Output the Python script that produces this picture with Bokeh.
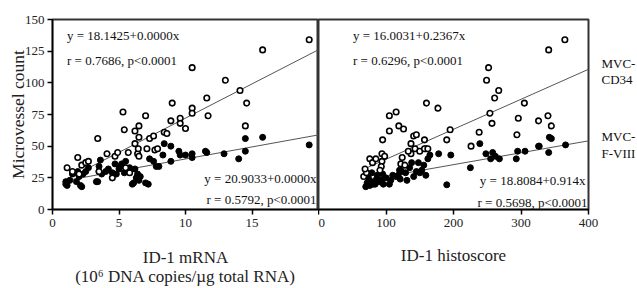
import math
from bokeh.plotting import figure
from bokeh.models import Label, FixedTicker, Range1d
from bokeh.layouts import row
from bokeh.embed import file_html
from bokeh.resources import INLINE

FONT = "Liberation Serif"

# ---------------- data: left panel (ID-1 mRNA) ----------------
mrna_cd34_x = [1.1, 1.5, 1.9, 2.0, 2.2, 2.5, 2.7, 3.4, 3.5, 4.1, 4.5, 4.7, 4.9, 5.3, 5.4,
               5.5, 5.7, 5.8, 6.2, 6.2, 6.4, 6.45, 6.5, 6.5, 6.5, 7.0, 7.1, 7.3, 7.6, 7.7,
               7.9, 8.4, 8.6, 8.9, 9.0, 9.6, 9.6, 10.0, 10.5, 10.5, 10.5, 11.6, 11.7, 13.0,
               14.1, 14.5, 14.6, 15.8, 19.3]
mrna_cd34_y = [33, 30, 41, 28, 35, 37, 38, 56, 30, 44, 25, 42, 45, 77, 63,
               33, 45, 29, 62, 52, 44, 48, 66, 57, 42, 74, 48, 56, 58, 47,
               48, 61, 60, 70, 84, 72, 68, 64, 112, 80, 76, 88, 74, 102,
               94, 66, 84, 126, 134]

mrna_f8_x = [1.0, 1.0, 1.1, 1.3, 1.5, 1.6, 1.8, 1.9, 2.0, 2.1, 2.2, 2.3, 2.5, 2.7, 3.3,
             3.4, 3.5, 3.5, 3.6, 3.7, 4.0, 4.2, 4.5, 4.7, 4.8, 5.0, 5.1, 5.2, 5.4, 5.5,
             5.6, 5.8, 6.0, 6.1, 6.2, 6.3, 6.4, 6.5, 6.6, 7.0, 7.2, 7.3, 7.6, 7.8, 8.0,
             8.3, 8.4, 8.9, 8.9, 9.5, 9.6, 10.0, 10.5, 10.5, 11.5, 11.6, 12.9, 14.0,
             14.5, 14.5, 15.8, 19.3]
mrna_f8_y = [20, 22, 19, 23, 28, 29, 22, 30, 26, 19, 18, 28, 30, 33, 22,
             22, 30, 34, 39, 28, 30, 32, 29, 36, 28, 32, 34, 36, 29, 38,
             31, 33, 20, 21, 32, 25, 28, 23, 26, 21, 20, 40, 38, 34, 34,
             43, 52, 50, 38, 46, 43, 43, 44, 41, 46, 45, 44, 40,
             46, 56, 57, 51]

# ---------------- data: right panel (ID-1 histoscore) ----------------
hs_cd34_x = [67, 71, 69, 76, 80, 85, 94, 98, 94, 93, 91, 95, 105, 115, 105, 119, 126,
             122, 124, 128, 137, 137, 141, 143, 145, 133, 150, 157, 159, 157, 162, 160,
             177, 190, 195, 226, 238, 249, 252, 254, 257, 261, 267, 294, 296, 305, 326,
             340, 341, 345, 365]
hs_cd34_y = [26, 29, 32, 40, 37, 40, 44, 42, 38, 34, 31, 55, 74, 77, 62, 66, 63.5,
             36, 41, 35, 52, 44, 58, 48, 59, 46, 46, 55, 48, 48, 48, 84,
             80, 55, 63, 50, 61, 102, 112, 76, 68, 88, 94, 59, 72, 84, 70,
             74, 126, 66, 134]

hs_f8_x = [70, 72, 74, 76, 78, 79, 81, 84, 86, 87, 90, 93, 95, 96, 100, 105, 107, 110,
           115, 118, 120, 121, 123, 125, 129, 131, 135, 138, 141, 145, 148, 150, 153,
           156, 159, 162, 165, 178, 190, 196, 225, 239, 248, 255, 258, 262, 268, 293,
           295, 306, 326, 327, 341, 342, 345, 366]
hs_f8_y = [18, 21, 25, 19, 22, 29, 20, 20, 24, 27, 22, 23, 28, 20, 25, 20, 23, 27,
           26, 27, 31, 24, 30, 35, 29, 23, 33, 37, 26, 30, 37, 29, 31,
           35, 27, 40, 43, 44, 19.5, 43, 33, 52, 44, 40, 45, 42, 40, 40,
           46, 46, 50, 50, 45, 57, 56, 51]

# regression lines (intercept, slope)
fit_mrna_cd34 = (18.1425, 5.40)
fit_mrna_f8 = (20.9, 1.90)
fit_hs_cd34 = (16.0031, 0.2367)
fit_hs_f8 = (16.6, 0.094)

mrna_ticks = [0, 5, 10, 15]
hs_ticks = [0, 100, 200, 300, 400]
y_ticks = [0, 25, 50, 75, 100, 125, 150]

txt_mrna_cd34 = ["y = 18.1425+0.0000x", "r = 0.7686, p<0.0001"]
txt_mrna_f8 = ["y = 20.9033+0.0000x", "r = 0.5792, p<0.0001"]
txt_hs_cd34 = ["y = 16.0031+0.2367x", "r = 0.6296, p<0.0001"]
txt_hs_f8 = ["y = 18.8084+0.914x", "r = 0.5698, p<0.0001"]
series_labels = [["MVC-", "CD34"], ["MVC-", "F-VIII"]]
y_title = "Microvessel count"
x_title_left = "ID-1 mRNA\n(10\u2076 DNA copies/\u00b5g total RNA)"
x_title_right = "ID-1 histoscore"

TOP, BOTTOM, H = 19, 77, 288


def style(p, ticks):
    p.grid.visible = False
    p.outline_line_color = "#333333"
    p.outline_line_width = 2
    p.background_fill_color = "white"
    p.border_fill_color = "white"
    for ax in p.axis:
        ax.axis_line_color = "black"
        ax.axis_line_width = 1.5
        ax.major_tick_line_color = "black"
        ax.major_tick_line_width = 1.5
        ax.major_tick_out = 5
        ax.major_tick_in = 0
        ax.minor_tick_line_color = None
        ax.major_label_text_font = FONT
        ax.major_label_text_font_size = "13px"
        ax.major_label_text_color = "#222222"
        ax.major_label_standoff = 4
        ax.axis_label_text_font = FONT
        ax.axis_label_text_font_style = "normal"
        ax.axis_label_text_color = "#222222"
    p.xaxis.ticker = FixedTicker(ticks=ticks)


def lab(p, text, x, y, align="left", size="13px", angle=0.0):
    p.add_layout(Label(x=x, y=y, x_units="screen", y_units="screen", text=text,
                       text_font=FONT, text_font_size=size, text_color="#111111",
                       text_align=align, text_baseline="middle", angle=angle))


def scatter_pair(p, ox, oy, cx, cy):
    p.scatter(cx, cy, marker="circle", size=6, fill_color="black", line_color="black",
              line_width=1)
    p.scatter(ox, oy, marker="circle", size=5.5, fill_color="white", line_color="black",
              line_width=1.6)


def fit_line(p, fit, xs, xend):
    a, b = fit
    x0 = min(xs)
    p.line([x0, xend], [a + b * x0, a + b * xend], line_color="#555555", line_width=1)


# ---------------- left figure ----------------
p1 = figure(width=318, height=H, x_range=Range1d(0, 20), y_range=Range1d(0, 150),
            output_backend="svg", toolbar_location=None,
            min_border_left=52, min_border_right=0, min_border_top=TOP, min_border_bottom=BOTTOM)
style(p1, mrna_ticks)
p1.yaxis.ticker = FixedTicker(ticks=y_ticks)
p1.yaxis.major_label_standoff = 3
p1.yaxis.axis_label = y_title
p1.yaxis.axis_label_text_font_size = "17.5px"
p1.yaxis.axis_label_standoff = -6
p1.xaxis.axis_label = x_title_left
p1.xaxis.axis_label_text_font_size = "17px"
p1.xaxis.axis_label_text_line_height = 1.0
p1.xaxis.axis_label_standoff = 18
fit_line(p1, fit_mrna_cd34, mrna_cd34_x, 20)
fit_line(p1, fit_mrna_f8, mrna_f8_x, 20)
scatter_pair(p1, mrna_cd34_x, mrna_cd34_y, mrna_f8_x, mrna_f8_y)
lab(p1, txt_mrna_cd34[0], 14.5, 174.5)
lab(p1, txt_mrna_cd34[1], 14.5, 149.5)
lab(p1, txt_mrna_f8[0], 264, 31, align="right")
lab(p1, txt_mrna_f8[1], 264, 10, align="right")

# ---------------- right figure ----------------
p2 = figure(width=282, height=H, x_range=Range1d(0, 400), y_range=Range1d(0, 150),
            output_backend="svg", toolbar_location=None, y_axis_location=None,
            min_border_left=0, min_border_right=12, min_border_top=TOP, min_border_bottom=BOTTOM)
style(p2, hs_ticks)
p2.xaxis.axis_label = x_title_right
p2.xaxis.axis_label_text_font_size = "17px"
p2.xaxis.axis_label_standoff = 16
fit_line(p2, fit_hs_cd34, hs_cd34_x, 400)
fit_line(p2, fit_hs_f8, hs_f8_x, 400)
scatter_pair(p2, hs_cd34_x, hs_cd34_y, hs_f8_x, hs_f8_y)
lab(p2, txt_hs_cd34[0], 34.5, 174.5)
lab(p2, txt_hs_cd34[1], 34.5, 149.5)
lab(p2, txt_hs_f8[0], 267, 29.5, align="right")
lab(p2, txt_hs_f8[1], 269, 7.5, align="right")

# ---------------- series labels on the right ----------------
p3 = figure(width=37, height=H, x_range=Range1d(0, 1), y_range=Range1d(0, 150),
            output_backend="svg", toolbar_location=None,
            x_axis_location=None, y_axis_location=None,
            min_border_left=0, min_border_right=0, min_border_top=TOP, min_border_bottom=BOTTOM)
p3.grid.visible = False
p3.outline_line_color = None
lab(p3, series_labels[0][0], 1, 146)
lab(p3, series_labels[0][1], 1, 130)
lab(p3, series_labels[1][0], 1, 73.5)
lab(p3, series_labels[1][1], 1, 56)

layout = row(p1, p2, p3)
open("out.html", "w").write(file_html(layout, INLINE))
